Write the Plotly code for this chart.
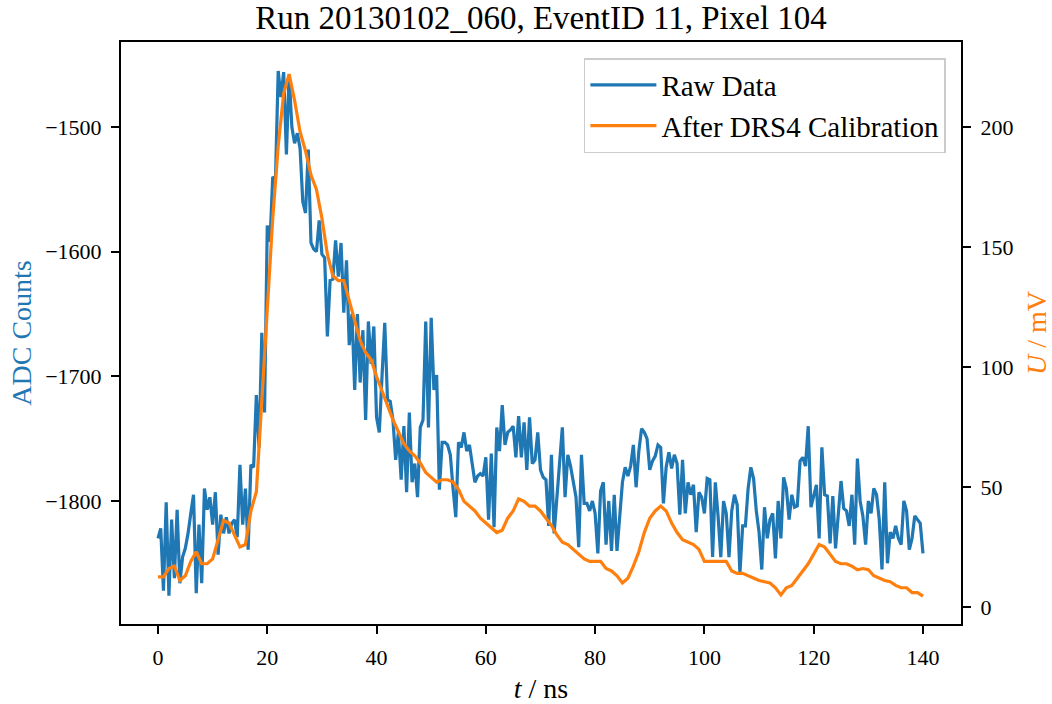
import plotly.graph_objects as go

# ---------------- data ----------------
t_start_ns = 0.0
t_step_ns = 0.5

raw_adc = [
    -1830, -1822, -1872, -1801, -1876, -1815, -1862, -1807, -1866, -1845,
    -1838, -1826, -1810, -1795, -1874, -1819, -1866, -1790, -1807, -1797,
    -1819, -1793, -1843, -1811, -1826, -1813, -1826, -1818, -1815, -1829,
    -1771, -1819, -1790, -1839, -1771, -1773, -1715, -1757, -1665, -1729,
    -1579, -1592, -1540, -1542, -1455, -1476, -1456, -1522, -1458, -1500,
    -1513, -1505, -1517, -1560, -1569, -1518, -1593, -1598, -1600, -1575,
    -1602, -1605, -1668, -1623, -1622, -1591, -1620, -1593, -1649, -1607,
    -1675, -1650, -1711, -1650, -1705, -1663, -1735, -1656, -1690, -1660,
    -1733, -1745, -1700, -1657, -1719, -1720, -1735, -1767, -1745, -1783,
    -1740, -1793, -1729, -1785, -1770, -1797, -1741, -1735, -1656, -1741,
    -1653, -1711, -1699, -1791, -1753, -1753, -1755, -1763, -1790, -1813,
    -1753, -1757, -1745, -1760, -1755, -1770, -1785, -1780, -1778, -1780,
    -1765, -1815, -1762, -1821, -1741, -1760, -1723, -1755, -1745, -1743,
    -1740, -1765, -1732, -1765, -1737, -1775, -1733, -1770, -1767, -1745,
    -1775, -1781, -1783, -1820, -1763, -1826, -1795, -1772, -1741, -1797,
    -1763, -1772, -1785, -1797, -1837, -1763, -1802, -1802, -1808, -1800,
    -1810, -1842, -1792, -1785, -1835, -1800, -1840, -1795, -1840, -1810,
    -1785, -1773, -1780, -1772, -1755, -1789, -1760, -1742, -1745, -1750,
    -1775, -1768, -1764, -1755, -1757, -1802, -1773, -1761, -1774, -1763,
    -1770, -1811, -1767, -1810, -1785, -1795, -1787, -1825, -1793, -1797,
    -1810, -1782, -1783, -1845, -1785, -1812, -1845, -1800, -1810, -1845,
    -1808, -1795, -1803, -1858, -1820, -1820, -1790, -1773, -1782, -1808,
    -1825, -1855, -1805, -1830, -1815, -1810, -1846, -1800, -1830, -1781,
    -1790, -1815, -1795, -1805, -1804, -1768, -1765, -1772, -1740, -1805,
    -1795, -1787, -1830, -1757, -1795, -1796, -1834, -1796, -1838, -1810,
    -1784, -1806, -1808, -1820, -1795, -1835, -1766, -1800, -1812, -1835,
    -1800, -1810, -1790, -1795, -1815, -1855, -1785, -1850, -1825, -1830,
    -1820, -1830, -1835, -1800, -1808, -1839, -1830, -1812, -1815, -1818,
    -1842,
]

cal_t_ns = list(range(0, 141))
cal_mv = [
    12.5, 12.5, 16, 17, 11, 13, 19, 23, 18, 18,
    20, 28, 36, 35, 30, 25, 26, 40, 48, 85,
    120, 162, 192, 214, 222, 211, 198, 190, 180, 174,
    162, 147, 138, 136, 136, 128, 120, 111, 106, 103,
    96, 90, 84, 78, 73, 68, 65, 63, 60, 56,
    54, 52, 53, 53, 52, 49, 44, 42, 40, 37,
    35, 33, 31, 32, 37, 40, 45, 44, 42, 42,
    40, 37, 34, 30, 27, 26, 24, 22, 20, 19,
    19, 19, 16, 15, 13, 10, 12, 17, 23, 31,
    37, 40, 42, 40, 35, 31, 28, 27, 26, 24,
    19, 19, 19, 19, 19, 15, 14, 14, 13, 12,
    11, 10.5, 10, 8, 5, 8, 9, 12, 15, 18,
    22, 26, 25, 22, 19, 18, 18, 17, 15.5, 16,
    15.5, 13, 12, 11, 10.5, 9, 8, 8, 6, 6,
    4.5,
]

raw_t_ns = [t_start_ns + i * t_step_ns for i in range(len(raw_adc))]

left_ticks = [-1800, -1700, -1600, -1500]
left_ticktext = ["\u22121800", "\u22121700", "\u22121600", "\u22121500"]
right_ticks = [0, 50, 100, 150, 200]
x_ticks = [0, 20, 40, 60, 80, 100, 120, 140]

BLUE = "#1f77b4"
ORANGE = "#ff7f0e"
FONT = "Liberation Serif"

fig = go.Figure()
fig.add_trace(go.Scatter(
    x=raw_t_ns, y=raw_adc, mode="lines", name="Raw Data",
    line=dict(color=BLUE, width=3.2), yaxis="y",
))
fig.add_trace(go.Scatter(
    x=cal_t_ns, y=cal_mv, mode="lines", name="After DRS4 Calibration",
    line=dict(color=ORANGE, width=3.2), yaxis="y2",
))

axis_common = dict(
    showgrid=False, zeroline=False, showline=True, linecolor="black",
    linewidth=2, ticks="outside", ticklen=8, tickwidth=1.6,
    tickcolor="black", tickfont=dict(family=FONT, size=22, color="black"),
    ticklabelstandoff=5, automargin=False,
)

fig.update_layout(
    width=1052, height=704,
    margin=dict(l=121, r=91, t=42, b=80, autoexpand=False),
    paper_bgcolor="white", plot_bgcolor="white",
    font=dict(family=FONT, color="black"),
    title=dict(
        text="Run 20130102_060, EventID 11, Pixel 104",
        font=dict(family=FONT, size=33, color="black"),
        x=0.5, xref="paper", xanchor="center",
        y=0.975, yref="container", yanchor="middle",
    ),
    xaxis=dict(
        **axis_common, range=[-6.77, 146.96], tickvals=x_ticks,
        mirror=True,
        title=dict(text="<i>t</i> / ns", font=dict(family=FONT, size=28), standoff=12),
    ),
    yaxis=dict(
        **axis_common, range=[-1898.7, -1431.8], tickvals=left_ticks,
        ticktext=left_ticktext,
        title=dict(text="ADC Counts", font=dict(family=FONT, size=28, color=BLUE), standoff=5),
    ),
    yaxis2=dict(
        **axis_common, range=[-7.1, 235.4], tickvals=right_ticks,
        overlaying="y", side="right",
        title=dict(text="<i>U</i> / mV", font=dict(family=FONT, size=28, color=ORANGE), standoff=14),
    ),
    legend=dict(
        x=0.982, y=0.9725, xanchor="right", yanchor="top",
        bgcolor="rgba(255,255,255,0.85)", bordercolor="#cccccc", borderwidth=1.5,
        font=dict(family=FONT, size=29, color="black"),
        tracegroupgap=0, itemwidth=66,
    ),
    showlegend=True,
)

fig.write_html("out.html")
